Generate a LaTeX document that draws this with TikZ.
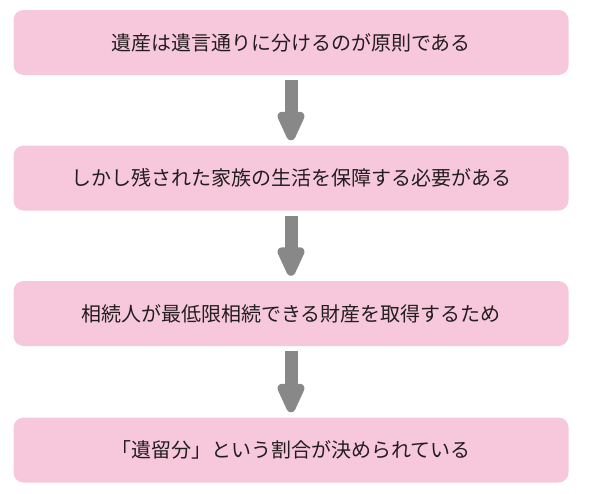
\documentclass[tikz,border=0pt]{standalone}
\usepackage{fontspec}
\setmainfont{Noto Sans CJK JP}
\usetikzlibrary{arrows.meta}
\definecolor{boxpink}{RGB}{247,200,220}
\definecolor{arrowgray}{RGB}{136,136,136}
\definecolor{textdark}{RGB}{35,30,30}

\begin{document}
\begin{tikzpicture}[x=1pt, y=1pt]
	\tikzstyle{every node} = [rectangle, rounded corners=10pt, fill=boxpink, text=textdark, minimum width=555pt, minimum height=65pt, font=\fontsize{20pt}{24pt}\selectfont]
	\tikzstyle{flow} = [line width=13pt, draw=arrowgray, shorten <=5pt, shorten >=5pt, -{Triangle[width=29pt, length=36pt, round]}]
	\useasboundingbox (0,0) rectangle (600,-493);
	\node (Principle) at (291, -42.5) {遺産は遺言通りに分けるのが原則である};
	\node (Family) at (291, -178) {しかし残された家族の生活を保障する必要がある};
	\node (Heirs) at (291, -313.5) {相続人が最低限相続できる財産を取得するため};
	\node (Share) at (291, -450) {「遺留分」という割合が決められている};
	\draw [flow] (Principle)--(Family);
	\draw [flow] (Family)--(Heirs);
	\draw [flow] (Heirs)--(Share);
\end{tikzpicture}
\end{document}
